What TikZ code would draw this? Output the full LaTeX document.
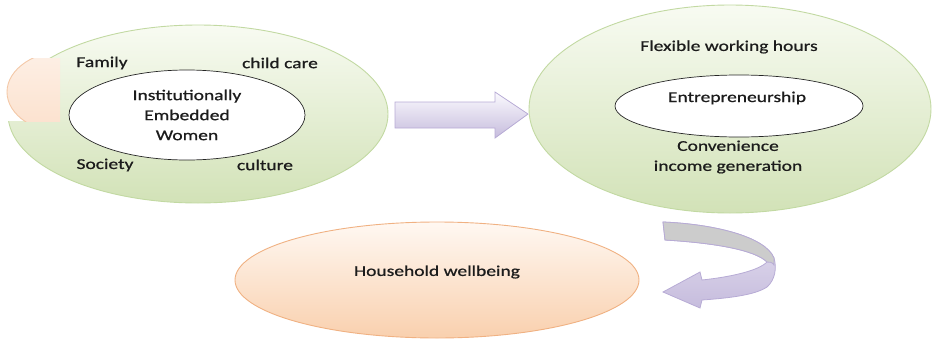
\documentclass[tikz,border=0pt]{standalone}
\usepackage{fontspec}
\setmainfont{Carlito}[FakeStretch=1.3,FakeBold=0.8]
\usetikzlibrary{shapes.geometric}
\definecolor{gtop}{HTML}{F8FBF2}
\definecolor{gbot}{HTML}{D2E2B7}
\definecolor{gedge}{HTML}{C2D9A2}
\definecolor{otop}{HTML}{FFF8F2}
\definecolor{obot}{HTML}{F9D0AE}
\definecolor{oedge}{HTML}{F0B182}
\definecolor{optop}{HTML}{FDF0E6}
\definecolor{opbot}{HTML}{FCE0CC}
\definecolor{ltop}{HTML}{FBFAFE}
\definecolor{lbot}{HTML}{C6BCDD}
\definecolor{ledge}{HTML}{B7ABD5}
\definecolor{grayband}{HTML}{CCCCCC}
\definecolor{txt}{HTML}{1C1C1C}
\begin{document}
\begin{tikzpicture}[x=1pt,y=-1pt,
  greenell/.style={ellipse, draw=gedge, line width=0.9pt, top color=gtop, bottom color=gbot, inner sep=0pt},
  whiteell/.style={ellipse, draw=black!85, line width=0.7pt, fill=white, inner sep=0pt},
  orangeell/.style={ellipse, draw=oedge, line width=0.9pt, top color=otop, bottom color=obot, inner sep=0pt},
  lbl/.style={text=txt, font=\fontsize{15}{20}\selectfont, inner sep=0pt, align=center}]
\useasboundingbox (0,0) rectangle (934,343);

% left group
\node[greenell, minimum width=380pt, minimum height=178pt] (left) at (198,114) {};
\fill[white] (0,58) rectangle (60,121);
\begin{scope}
  \clip (0,58) rectangle (60,121);
  \path[draw=oedge!70, line width=0.9pt, top color=optop, bottom color=opbot] (70,92) ellipse [x radius=63pt, y radius=42pt];
\end{scope}
\node[whiteell, minimum width=236pt, minimum height=90pt] (iew) at (187,115) {};
\node[lbl] (iewt) at (187,115) {Institutionally\\Embedded\\Women};
\node[lbl] (family) at (102,63) {Family};
\node[lbl] (childcare) at (280,63) {child care};
\node[lbl] (society) at (105,165) {Society};
\node[lbl] (culture) at (265,165) {culture};

% right group
\node[greenell, minimum width=402pt, minimum height=208pt] (right) at (730,109) {};
\node[whiteell, minimum width=248pt, minimum height=62pt] (entre) at (739,106) {};
\node[lbl] (entret) at (737,98) {Entrepreneurship};
\node[lbl] (flex) at (729,47) {Flexible working hours};
\node[lbl] (conv) at (728,157) {Convenience\\income generation};

% household
\node[orangeell, minimum width=404pt, minimum height=116pt] (house) at (437,280) {};
\node[lbl] (houset) at (437,272) {Household wellbeing};

% straight arrow
\path[draw=ledge, line width=0.8pt, top color=ltop, bottom color=lbot]
  (395,102) -- (495,102) -- (495,92) -- (528,114) -- (495,138) -- (495,128) -- (395,128) -- cycle;

% curved arrow
\path[draw=ledge, line width=0.8pt, top color=ltop!60!lbot, bottom color=lbot]
  (663,222) .. controls (712,224) and (765,236) .. (774,258)
  .. controls (777,268) and (775,280) .. (767,287)
  .. controls (755,295) and (730,298) .. (702,300)
  -- (700,308) -- (663,292) -- (700,272) -- (702,280)
  .. controls (730,277) and (758,271) .. (767,262)
  .. controls (755,250) and (715,243) .. (665,240) -- cycle;
\path[draw=ledge, line width=0.8pt, fill=grayband]
  (663,222) .. controls (712,224) and (765,236) .. (774,258)
  -- (774,265)
  .. controls (772,262) and (770,262) .. (767,262)
  .. controls (755,250) and (715,243) .. (665,240) -- cycle;
\end{tikzpicture}
\end{document}
